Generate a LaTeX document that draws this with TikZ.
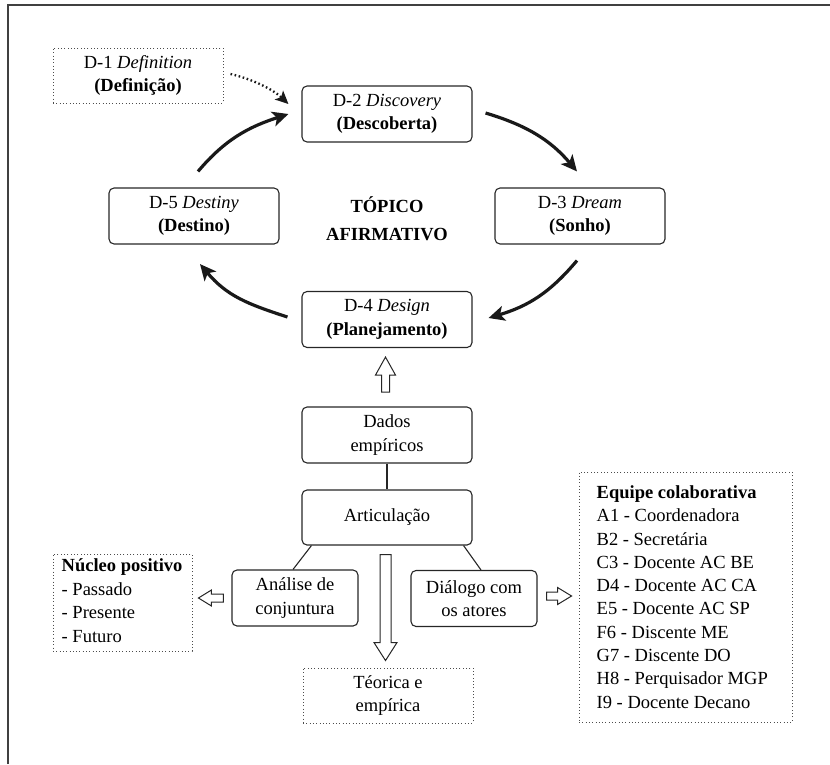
\documentclass[tikz,border=0pt]{standalone}
\usepackage{fontspec}
\setmainfont{Liberation Serif}
\usetikzlibrary{arrows.meta,calc}

\begin{document}
\begin{tikzpicture}[x=1pt,y=-1pt,
  every node/.style={font=\fontsize{18.5}{23.5}\selectfont, inner sep=0pt},
  stage/.style={draw=black!85, line width=1.1pt, rounded corners=5pt,
    minimum width=170pt, minimum height=56pt, align=center},
  smallstage/.style={stage, minimum width=126pt},
  note/.style={draw=black!70, line width=1pt, dash pattern=on 1pt off 2.3pt},
  listtext/.style={anchor=west, align=left},
  link/.style={draw=black!85, line width=1.1pt},
  cycle arrow/.style={line width=3.2pt, black!90,
    -{Stealth[length=16pt,width=15pt,inset=4pt]}},
  hint arrow/.style={line width=2.3pt, black!90, dash pattern=on 1.6pt off 2.6pt,
    -{Stealth[length=13pt,width=12pt,inset=3pt]}},
  block arrow/.style={draw=black!85, line width=1pt, fill=white, line join=miter},
]
\useasboundingbox (0,0) rectangle (830,764);

% page frame
\draw[line width=2pt, black!75] (8,764) -- (8,5) -- (830,5);

% 4-D cycle
\node[note, minimum width=170pt, minimum height=55pt, align=center] (d1) at (138,75.5)
  {D-1 \textit{Definition}\\\textbf{(Definição)}};
\node[stage] (d2) at (387,114) {D-2 \textit{Discovery}\\\textbf{(Descoberta)}};
\node[stage] (d3) at (580,216) {D-3 \textit{Dream}\\\textbf{(Sonho)}};
\node[stage] (d4) at (387,319.5) {D-4 \textit{Design}\\\textbf{(Planejamento)}};
\node[stage] (d5) at (194,216) {D-5 \textit{Destiny}\\\textbf{(Destino)}};
\node[font=\fontsize{18.5}{28}\selectfont\bfseries, align=center] (topic) at (387,219)
  {TÓPICO\\AFIRMATIVO};

\draw[hint arrow] ($(d1.east)+(7,-1.5)$) .. controls +(18,4) and +(-17,-16) .. ($(d2.west)+(-13,-10)$);
\draw[cycle arrow] ($(d5.north)+(4,-16)$) .. controls +(27,-32) and +(-40,13) .. ($(d2.west)+(-13,0)$);
\draw[cycle arrow] ($(d2.east)+(13,-1)$) .. controls +(40,12) and +(-27,-32) .. ($(d3.north)+(-3,-16)$);
\draw[cycle arrow] ($(d3.south)+(-3,16)$) .. controls +(-27,32) and +(40,-12) .. ($(d4.east)+(16,-1.5)$);
\draw[cycle arrow] ($(d4.west)+(-14,-2.5)$) .. controls +(-40,-13) and +(27,32) .. ($(d5.south)+(6,19.5)$);

% empirical basis
\node[stage] (dados) at (387,435) {Dados\\empíricos};
\node[stage, minimum height=55pt] (artic) at (387,517.5) {Articulação};
\node[smallstage] (analise) at (295,598) {Análise de\\conjuntura};
\node[smallstage] (dialogo) at (474,598.5) {Diálogo com\\os atores};
\node[note, minimum width=170pt, minimum height=55pt, align=center] (teorica) at (388,695.5)
  {Téorica e\\empírica};

\node[note, minimum width=139pt, minimum height=97pt] (nucleo) at (122.5,602.5) {};
\node[listtext] (nucleotext) at ($(nucleo.west)+(9,-2)$)
  {\textbf{Núcleo positivo}\\- Passado\\- Presente\\- Futuro};

\node[note, minimum width=213pt, minimum height=250pt] (equipe) at (685.5,597) {};
\node[listtext, font=\fontsize{18.5}{23.3}\selectfont] (equipetext) at ($(equipe.west)+(18,0)$)
  {\textbf{Equipe colaborativa}\\A1 - Coordenadora\\B2 - Secretária\\C3 - Docente AC BE\\
   D4 - Docente AC CA\\E5 - Docente AC SP\\F6 - Discente ME\\G7 - Discente DO\\
   H8 - Perquisador MGP\\I9 - Docente Decano};

\draw[link] (dados.south) -- (artic.north);
\draw[link] ($(artic.south west)+(10,0)$) -- ($(analise.north)+(-2,0)$);
\draw[link] ($(artic.south east)+(-9,0)$) -- ($(dialogo.north)+(7,0)$);

% block arrows
\draw[block arrow] ($(d4.south)+(-1.5,9)$) -- ++(10,18) -- ++(-6,0) -- ++(0,17)
  -- ++(-8,0) -- ++(0,-17) -- ++(-6,0) -- cycle;
\draw[block arrow] ($(artic.south)+(-7,9)$) -- ++(11,0) -- ++(0,88) -- ++(6,0)
  -- ++(-11.5,18) -- ++(-11.5,-18) -- ++(6,0) -- cycle;
\draw[block arrow] ($(analise.west)+(-33,0)$) -- ++(13,-8) -- ++(0,4) -- ++(12,0)
  -- ++(0,8) -- ++(-12,0) -- ++(0,4) -- cycle;
\draw[block arrow] ($(dialogo.east)+(9,-6.5)$) -- ++(11,0) -- ++(0,-4.5) -- ++(14,8.5)
  -- ++(-14,8.5) -- ++(0,-4.5) -- ++(-11,0) -- cycle;
\end{tikzpicture}
\end{document}
